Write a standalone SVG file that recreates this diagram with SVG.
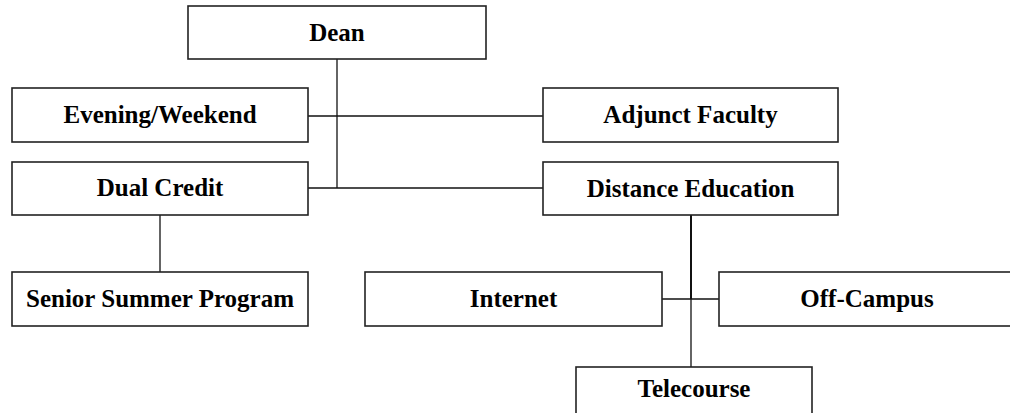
<svg xmlns="http://www.w3.org/2000/svg" width="1010" height="413" viewBox="0 0 1010 413">
<style>
.box{fill:#fff;stroke:#222;stroke-width:1.6}
.lbl{font-family:"Liberation Serif","Times New Roman",serif;font-weight:bold;font-size:25px;text-anchor:middle;fill:#000}
.ln{stroke:#111;stroke-width:1.3;fill:none}
</style>
<rect width="1010" height="413" fill="#fff"/>
<g id="connectors">
<line class="ln" x1="337" y1="59" x2="337" y2="188"/>
<line class="ln" x1="308" y1="116" x2="543" y2="116"/>
<line class="ln" x1="308" y1="188" x2="543" y2="188"/>
<line class="ln" x1="160" y1="215" x2="160" y2="272"/>
<line class="ln" x1="691" y1="215" x2="691" y2="299" style="stroke-width:2"/>
<line class="ln" x1="691" y1="299" x2="691" y2="367"/>
<line class="ln" x1="662" y1="299" x2="719" y2="299"/>
</g>
<g id="dean"><rect class="box" x="188" y="6" width="298" height="53"/><text class="lbl" x="337" y="41">Dean</text></g>
<g id="evening"><rect class="box" x="12" y="88" width="296" height="54"/><text class="lbl" x="160" y="123">Evening/Weekend</text></g>
<g id="adjunct"><rect class="box" x="543" y="88" width="295" height="54"/><text class="lbl" x="690.5" y="123">Adjunct Faculty</text></g>
<g id="dual"><rect class="box" x="12" y="162" width="296" height="53"/><text class="lbl" x="160" y="196">Dual Credit</text></g>
<g id="distance"><rect class="box" x="543" y="162" width="295" height="53"/><text class="lbl" x="690.5" y="197">Distance Education</text></g>
<g id="senior"><rect class="box" x="12" y="272" width="296" height="54"/><text class="lbl" x="160" y="307">Senior Summer Program</text></g>
<g id="internet"><rect class="box" x="365" y="272" width="297" height="54"/><text class="lbl" x="513.5" y="307">Internet</text></g>
<g id="offcampus"><rect class="box" x="719" y="272" width="296" height="54"/><text class="lbl" x="867" y="307">Off-Campus</text></g>
<g id="telecourse"><rect class="box" x="576" y="367" width="236" height="60"/><text class="lbl" x="694" y="397">Telecourse</text></g>
</svg>
